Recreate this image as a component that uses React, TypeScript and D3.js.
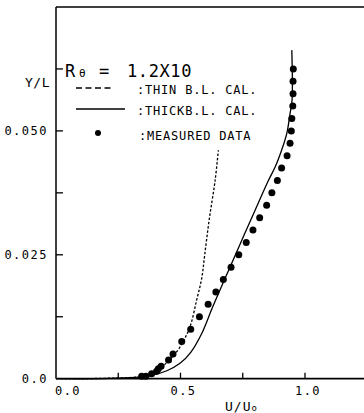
import React from "react";
import * as d3 from "d3";

const measuredY = [0.0005, 0.0005, 0.001, 0.0015, 0.002, 0.0025, 0.00375, 0.005, 0.0075, 0.01, 0.0125, 0.015, 0.0175, 0.02, 0.0225, 0.025, 0.0275, 0.03, 0.0325, 0.035, 0.0375, 0.04, 0.0425, 0.045, 0.0475, 0.05, 0.0525, 0.055, 0.0575, 0.06, 0.0625];
const measuredU = [0.344, 0.361, 0.384, 0.404, 0.411, 0.422, 0.452, 0.47, 0.505, 0.541, 0.576, 0.611, 0.642, 0.672, 0.703, 0.734, 0.764, 0.791, 0.818, 0.846, 0.867, 0.889, 0.906, 0.928, 0.94, 0.945, 0.947, 0.951, 0.952, 0.952, 0.953];

const thickY = [0, 0.00002, 0.0002, 0.0006, 0.0016, 0.0031, 0.00538, 0.00901, 0.01445, 0.0199, 0.0256, 0.0293, 0.034, 0.04, 0.0427, 0.0461, 0.0495, 0.0535, 0.0562, 0.0663];
const thickU = [0.0, 0.177, 0.297, 0.378, 0.445, 0.498, 0.542, 0.5843, 0.629, 0.676, 0.726, 0.758, 0.7996, 0.853, 0.88, 0.906, 0.927, 0.94, 0.948, 0.947];

const thinY = [0, 0, 0.0001, 0.0004, 0.0009, 0.0021, 0.0039, 0.0064, 0.0105, 0.0159, 0.0202, 0.0249, 0.032, 0.04, 0.0461];
const thinU = [0.0, 0.056, 0.217, 0.337, 0.378, 0.418, 0.458, 0.498, 0.538, 0.565, 0.585, 0.597, 0.615, 0.639, 0.652];

const xTicks = [0.25, 0.5, 0.75, 1.0];
const xTickLabels = [
  { v: 0.0, t: "0.0" },
  { v: 0.5, t: "0.5" },
  { v: 1.0, t: "1.0" },
];
const yTicks = [0.0125, 0.025, 0.0375, 0.05, 0.0625];
const yTickLabels = [
  { v: 0.0, t: "0.0" },
  { v: 0.025, t: "0.025" },
  { v: 0.05, t: "0.050" },
];

const legendItems = [":THIN B.L. CAL.", ":THICKB.L. CAL.", ":MEASURED DATA"];

export default function App() {
  const W = 364, H = 413;
  const x = d3.scaleLinear().domain([0, 1.25]).range([56, 56 + 249 * 1.25]);
  const y = d3.scaleLinear().domain([0, 0.075]).range([378.7, 7]);
  const font = "'DejaVu Sans Mono', monospace";

  const line = d3
    .line<[number, number]>()
    .x((d) => x(d[0]))
    .y((d) => y(d[1]))
    .curve(d3.curveCatmullRom.alpha(0.5));

  const thick = line(thickU.map((u, i) => [u, thickY[i]]) as [number, number][]) || "";
  const thin = line(thinU.map((u, i) => [u, thinY[i]]) as [number, number][]) || "";

  const x0 = x(0);
  const yb = y(0);

  return (
    <svg width={W} height={H} style={{ position: "absolute", left: 0, top: 0, background: "#fff" }}>
      <rect width={W} height={H} fill="#fff" />
      {/* frame */}
      <line x1={x0} x2={W} y1={y(0.075)} y2={y(0.075)} stroke="#000" strokeWidth={1.5} />
      <line x1={x0} x2={x0} y1={y(0.075)} y2={yb} stroke="#000" strokeWidth={1.5} />
      <line x1={x0} x2={W} y1={yb} y2={yb} stroke="#000" strokeWidth={1.8} />
      {xTicks.map((v) => (
        <line key={"xt" + v} x1={x(v)} x2={x(v)} y1={yb} y2={yb - 6} stroke="#000" strokeWidth={1.3} />
      ))}
      {yTicks.map((v) => (
        <line key={"yt" + v} x1={x0} x2={x0 + 7} y1={y(v)} y2={y(v)} stroke="#000" strokeWidth={1.3} />
      ))}
      {xTickLabels.map((d, i) => (
        <text key={"xl" + i} x={i === 0 ? x(d.v) + 12 : x(d.v) + 3} y={395} textAnchor="middle" fontFamily={font} fontSize={12} letterSpacing={1.5} fill="#000">
          {d.t}
        </text>
      ))}
      {yTickLabels.map((d, i) => (
        <text key={"yl" + i} x={48} y={y(d.v) + 4.5} textAnchor="end" fontFamily={font} fontSize={12} letterSpacing={1.5} fill="#000">
          {d.t}
        </text>
      ))}
      <text x={25} y={87} fontFamily={font} fontSize={13} letterSpacing={0.5} fill="#000">Y/L</text>
      <text x={225} y={411} fontFamily={font} fontSize={13} letterSpacing={1} fill="#000">
        U/U<tspan fontSize={9}>o</tspan>
      </text>

      {/* curves */}
      <path d={thin} fill="none" stroke="#000" strokeWidth={1.3} strokeDasharray="2.5,1.8" />
      <path d={thick} fill="none" stroke="#000" strokeWidth={1.3} />
      {measuredU.map((u, i) => (
        <circle key={"m" + i} cx={x(u)} cy={y(measuredY[i])} r={3.5} fill="#000" />
      ))}

      {/* legend */}
      <text x={65} y={77} fontFamily={font} fontSize={17} fill="#000">R</text>
      <text x={79} y={77} fontFamily={font} fontSize={11} fill="#000">θ</text>
      <text x={99} y={77} fontFamily={font} fontSize={17} fill="#000">=</text>
      <text x={127} y={77} fontFamily={font} fontSize={17} letterSpacing={0.6} fill="#000">1.2X10</text>
      <line x1={76} x2={113} y1={88} y2={88} stroke="#000" strokeWidth={1.3} strokeDasharray="6,3.5" />
      <line x1={76} x2={125} y1={109} y2={109} stroke="#000" strokeWidth={1.3} />
      <circle cx={98} cy={133} r={3} fill="#000" />
      {legendItems.map((t, i) => (
        <text key={"lg" + i} x={137 + (i === 2 ? 2 : 0)} y={93.5 + i * 21 + (i === 2 ? 4 : 0)} fontFamily={font} fontSize={12} letterSpacing={0.8} fill="#000">
          {t}
        </text>
      ))}
    </svg>
  );
}
